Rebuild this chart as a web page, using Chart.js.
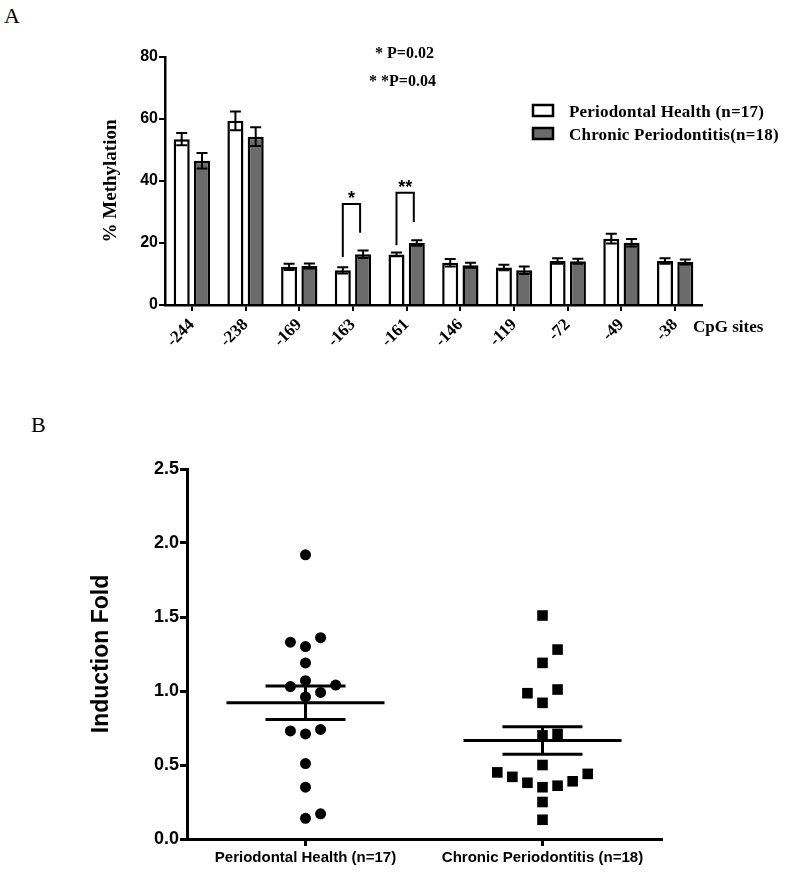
<!DOCTYPE html>
<html>
<head>
<meta charset="utf-8">
<script src="https://cdn.jsdelivr.net/npm/chart.js@4.4.1/dist/chart.umd.min.js"></script>
<style>
    body { margin: 0; background: #fff; width: 800px; height: 878px; position: relative; overflow: hidden; }
    .tag { position: absolute; font-family: 'Liberation Serif', serif; font-size: 22px; color: #000; }
    canvas { position: absolute; left: 0; }
    #chartA { top: 0; }
    #chartB { top: 430px; }
</style>
</head>
<body>
<div class="tag" style="left:4px; top:3px;">A</div>
<div class="tag" style="left:31px; top:412px;">B</div>
<canvas id="chartA" width="800" height="400"></canvas>
<canvas id="chartB" width="800" height="448"></canvas>
<script>
// ---- Panel A: % methylation per CpG site ----
const sites      = ['-244', '-238', '-169', '-163', '-161', '-146', '-119', '-72', '-49', '-38'];
const healthMeth = [53.5, 59.4, 12.3, 11.2, 16.3, 13.6, 12.1, 14.2, 21.4, 14.2];
const healthErr  = [2.0, 3.0, 1.0, 1.0, 0.6, 1.2, 0.9, 0.9, 1.6, 0.9];
const cpMeth     = [46.5, 54.3, 12.6, 16.4, 20.0, 12.8, 11.2, 14.1, 20.1, 13.9];
const cpErr      = [2.5, 3.0, 0.8, 1.2, 0.9, 0.8, 1.2, 0.8, 1.2, 0.8];
const groupsA    = ['Periodontal Health (n=17)', 'Chronic Periodontitis(n=18)'];
const pNotes     = ['* P=0.02', '* *P=0.04'];

// brackets over significant sites
const sigSites    = ['-163', '-161'];
const sigMarks    = ['*', '**'];
const sigTop      = [32.6, 36.2];
const sigLeftEnd  = [15.5, 19.3];
const sigRightEnd = [23.3, 26.8];

// ---- Panel B: induction fold ----
const groupsB    = ['Periodontal Health (n=17)', 'Chronic Periodontitis (n=18)'];
const healthFold = [1.92, 1.33, 1.36, 1.30, 1.19, 1.07, 1.03, 1.04, 0.99, 0.96, 0.73, 0.71, 0.74, 0.51, 0.35, 0.14, 0.17];
const healthCol  = [0, -1, 1, 0, 0, 0, -1, 2, 1, 0, -1, 0, 1, 0, 0, 0, 1];
const cpFold     = [1.51, 1.28, 1.19, 1.01, 0.985, 0.92, 0.70, 0.71, 0.50, 0.45, 0.42, 0.38, 0.35, 0.36, 0.39, 0.44, 0.25, 0.13];
const cpCol      = [0, 1, 0, 1, -1, 0, 0, 1, 0, -3, -2, -1, 0, 1, 2, 3, 0, 0];
const foldMean   = [0.92, 0.665];
const foldSem    = [0.113, 0.093];

const SERIF = "'Liberation Serif', 'Times New Roman', serif";
const SANS  = "'Liberation Sans', Arial, sans-serif";

// error bars (mean ± SEM) on each bar
const errorBars = {
    id: 'errorBars',
    afterDatasetsDraw(chart) {
        const ctx = chart.ctx, y = chart.scales.y;
        const errs = [healthErr, cpErr];
        ctx.save();
        ctx.strokeStyle = '#000';
        ctx.lineWidth = 2;
        chart.data.datasets.forEach((ds, i) => {
            chart.getDatasetMeta(i).data.forEach((bar, j) => {
                const top = y.getPixelForValue(ds.data[j] + errs[i][j]);
                const bot = y.getPixelForValue(ds.data[j] - errs[i][j]);
                ctx.beginPath();
                ctx.moveTo(bar.x, top); ctx.lineTo(bar.x, bot);
                ctx.moveTo(bar.x - 5.5, top); ctx.lineTo(bar.x + 5.5, top);
                ctx.moveTo(bar.x - 5.5, bot); ctx.lineTo(bar.x + 5.5, bot);
                ctx.stroke();
            });
        });
        ctx.restore();
    }
};

// brackets, p notes, legend, "CpG sites"
const annotateA = {
    id: 'annotateA',
    afterDraw(chart) {
        const ctx = chart.ctx, y = chart.scales.y;
        const m0 = chart.getDatasetMeta(0), m1 = chart.getDatasetMeta(1);
        ctx.save();
        ctx.strokeStyle = '#000';
        ctx.fillStyle = '#000';
        ctx.lineWidth = 2;
        sigSites.forEach((s, k) => {
            const idx = sites.indexOf(s);
            const lx = m0.data[idx].x, rx = m1.data[idx].x - 3;
            const ty = y.getPixelForValue(sigTop[k]);
            ctx.beginPath();
            ctx.moveTo(lx, y.getPixelForValue(sigLeftEnd[k]));
            ctx.lineTo(lx, ty);
            ctx.lineTo(rx, ty);
            ctx.lineTo(rx, y.getPixelForValue(sigRightEnd[k]));
            ctx.stroke();
            ctx.font = 'bold 18px ' + SANS;
            ctx.textAlign = 'center';
            ctx.textBaseline = 'alphabetic';
            ctx.fillText(sigMarks[k], (lx + rx) / 2, ty);
        });

        // P values
        ctx.textAlign = 'left';
        ctx.font = 'bold 16px ' + SERIF;
        ctx.fillText(pNotes[0], 375, 58);
        ctx.fillText(pNotes[1], 369, 86);

        // CpG sites
        ctx.font = 'bold 17px ' + SERIF;
        ctx.fillText('CpG sites', 693, 332);

        // legend
        const fills = ['#ffffff', '#6b6b6b'];
        ctx.font = 'bold 17px ' + SERIF;
        if ('letterSpacing' in ctx) ctx.letterSpacing = '0.2px';
        groupsA.forEach((g, i) => {
            const by = 105 + i * 23;
            ctx.fillStyle = fills[i];
            ctx.fillRect(533, by, 20, 11);
            ctx.lineWidth = 2.5;
            ctx.strokeRect(533, by, 20, 11);
            ctx.fillStyle = '#000';
            ctx.fillText(g, 569, by + 12);
        });
        ctx.restore();
    }
};

new Chart(document.getElementById('chartA'), {
    type: 'bar',
    data: {
        labels: sites,
        datasets: [
            { label: groupsA[0], data: healthMeth, backgroundColor: '#ffffff', borderColor: '#000', borderWidth: 2.5 },
            { label: groupsA[1], data: cpMeth, backgroundColor: '#6b6b6b', borderColor: '#000', borderWidth: 2.5 }
        ]
    },
    options: {
        responsive: false,
        animation: false,
        categoryPercentage: 0.756,
        barPercentage: 0.79,
        layout: { padding: { top: 57, left: 96, right: 98, bottom: 0 } },
        plugins: { legend: { display: false }, tooltip: { enabled: false } },
        scales: {
            x: {
                afterFit: s => { s.height = 95; },
                grid: { offset: false, drawOnChartArea: false, drawTicks: true, tickLength: 6, color: '#000', lineWidth: 2 },
                border: { display: true, color: '#000', width: 2.5 },
                ticks: { color: '#000', font: { family: SERIF, size: 17, weight: 'bold' }, minRotation: 45, maxRotation: 45, padding: 4 }
            },
            y: {
                min: 0, max: 80,
                afterFit: s => { s.width = 69; },
                grid: { drawOnChartArea: false, drawTicks: true, tickLength: 6, color: '#000', lineWidth: 2 },
                border: { display: true, color: '#000', width: 2.5 },
                ticks: { stepSize: 20, color: '#000', padding: 1, font: { family: SANS, size: 16, weight: 'bold' } },
                title: { display: true, text: '% Methylation', color: '#000', font: { family: SERIF, size: 19, weight: 'bold' } }
            }
        }
    },
    plugins: [errorBars, annotateA]
});

// mean ± SEM lines for panel B
const meanLines = {
    id: 'meanLines',
    afterDatasetsDraw(chart) {
        const { ctx, scales: { x, y } } = chart;
        ctx.save();
        ctx.strokeStyle = '#000';
        ctx.lineWidth = 3;
        foldMean.forEach((m, i) => {
            const cx = x.getPixelForValue(i + 1);
            const my = y.getPixelForValue(m);
            const hi = y.getPixelForValue(m + foldSem[i]);
            const lo = y.getPixelForValue(m - foldSem[i]);
            ctx.beginPath();
            ctx.moveTo(cx - 79, my); ctx.lineTo(cx + 79, my);
            ctx.moveTo(cx - 40, hi); ctx.lineTo(cx + 40, hi);
            ctx.moveTo(cx - 40, lo); ctx.lineTo(cx + 40, lo);
            ctx.moveTo(cx, hi); ctx.lineTo(cx, lo);
            ctx.stroke();
        });
        ctx.restore();
    }
};

const jitter = 0.0636;

new Chart(document.getElementById('chartB'), {
    type: 'scatter',
    data: {
        datasets: [
            {
                label: groupsB[0],
                data: healthFold.map((v, i) => ({ x: 1 + healthCol[i] * jitter, y: v })),
                pointStyle: 'circle', pointRadius: 5.5, backgroundColor: '#000', borderWidth: 0
            },
            {
                label: groupsB[1],
                data: cpFold.map((v, i) => ({ x: 2 + cpCol[i] * jitter, y: v })),
                pointStyle: 'rect', pointRadius: 7.5, backgroundColor: '#000', borderWidth: 0
            }
        ]
    },
    options: {
        responsive: false,
        animation: false,
        layout: { padding: { top: 39, left: 84, right: 139, bottom: 0 } },
        plugins: { legend: { display: false }, tooltip: { enabled: false } },
        scales: {
            x: {
                type: 'linear', min: 0.5, max: 2.5,
                afterBuildTicks: s => { s.ticks = groupsB.map((g, i) => ({ value: i + 1 })); },
                afterFit: s => { s.height = 39; },
                grid: { drawOnChartArea: false, drawTicks: true, tickLength: 7, color: '#000', lineWidth: 3 },
                border: { display: true, color: '#000', width: 3 },
                ticks: {
                    color: '#000', padding: 3, maxRotation: 0,
                    font: { family: SANS, size: 15, weight: 'bold' },
                    callback: v => groupsB[Math.round(v) - 1]
                }
            },
            y: {
                min: 0, max: 2.5,
                afterFit: s => { s.width = 103; },
                grid: { drawOnChartArea: false, drawTicks: true, tickLength: 7, color: '#000', lineWidth: 3 },
                border: { display: true, color: '#000', width: 3 },
                ticks: { stepSize: 0.5, color: '#000', padding: 1, font: { family: SANS, size: 18, weight: 'bold' }, callback: v => v.toFixed(1) },
                title: { display: true, text: 'Induction Fold', color: '#000', font: { family: SANS, size: 23, weight: 'bold' } }
            }
        }
    },
    plugins: [meanLines]
});
</script>
</body>
</html>
